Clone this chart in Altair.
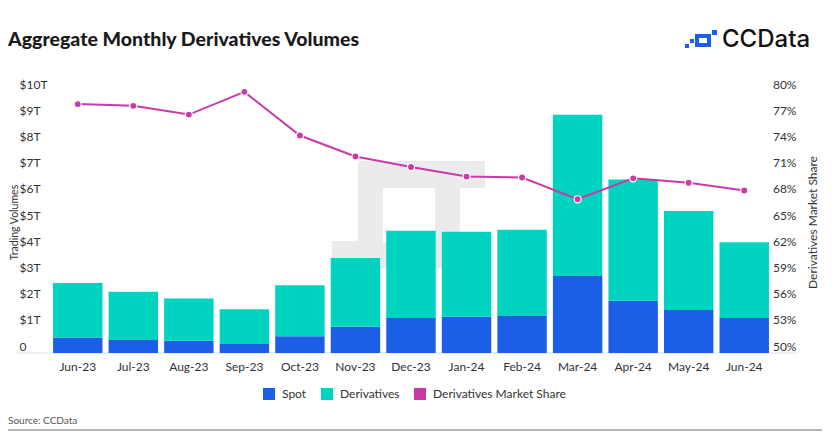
import altair as alt
import pandas as pd

months = ["Jun-23", "Jul-23", "Aug-23", "Sep-23", "Oct-23", "Nov-23", "Dec-23",
          "Jan-24", "Feb-24", "Mar-24", "Apr-24", "May-24", "Jun-24"]
spot = [0.59, 0.50, 0.47, 0.34, 0.64, 1.00, 1.34, 1.38, 1.41, 2.94, 1.99, 1.64, 1.34]
derivatives = [2.08, 1.84, 1.61, 1.33, 1.95, 2.63, 3.33, 3.25, 3.29, 6.15, 4.63, 3.78, 2.89]
market_share = [78.5, 78.3, 77.3, 79.9, 74.9, 72.5, 71.3, 70.2, 70.1, 67.6, 70.0, 69.5, 68.6]

series_names = ["Spot", "Derivatives", "Derivatives Market Share"]
series_colors = ["#1b5fe6", "#00d4c1", "#c83ba7"]

FONT = "Lato"
W, H = 722, 262

rows = []
for i, m in enumerate(months):
    rows.append({"month": m, "series": "Spot", "value": spot[i], "ord": 0})
    rows.append({"month": m, "series": "Derivatives", "value": derivatives[i], "ord": 1})
bars_df = pd.DataFrame(rows)
line_df = pd.DataFrame({"month": months, "share": market_share,
                        "series": ["Derivatives Market Share"] * len(months)})

x_enc = alt.X("month:N", sort=months, title=None,
              scale=alt.Scale(paddingInner=0.11, paddingOuter=0.055),
              axis=alt.Axis(labelAngle=0, domain=False, ticks=False, labelPadding=8,
                            labelFontSize=12, labelColor="#333333", labelFont=FONT))

color_scale = alt.Scale(domain=series_names, range=series_colors)

bars = alt.Chart(bars_df).mark_bar().encode(
    x=x_enc,
    y=alt.Y("sum(value):Q", stack="zero",
            scale=alt.Scale(domain=[0, 10], nice=False),
            axis=alt.Axis(values=list(range(0, 11)),
                          labelExpr="datum.value == 0 ? '0' : '$' + datum.value + 'T'",
                          domain=False, ticks=False, grid=False,
                          labelAlign="left", labelPadding=31, labelOffset=-7,
                          labelFontSize=12, labelColor="#333333", labelFont=FONT,
                          title="Trading Volumes", titleAngle=270, titleX=-36, titleY=131,
                          titleAlign="center", titleBaseline="middle",
                          titleFontSize=10.5, titleFontWeight="normal", titleColor="#333333",
                          titleFont=FONT)),
    color=alt.Color("series:N", scale=color_scale, title=None,
                    legend=alt.Legend(orient="none", legendX=213, legendY=297,
                                      direction="horizontal", symbolType="square",
                                      symbolSize=144, symbolStrokeWidth=0,
                                      labelFontSize=12, labelColor="#333333", labelFont=FONT,
                                      labelOffset=7, columnPadding=14)),
    order=alt.Order("ord:Q"),
)

share_y = alt.Y("share:Q", scale=alt.Scale(domain=[50, 80], nice=False),
                axis=alt.Axis(orient="right", values=list(range(50, 81, 3)),
                              labelExpr="datum.value + '%'",
                              domain=False, ticks=False, grid=False,
                              labelAlign="right", labelPadding=24, labelOffset=-7,
                              labelFontSize=12, labelColor="#333333", labelFont=FONT,
                              title="Derivatives Market Share", titleAngle=270,
                              titleX=40, titleY=131, titleAlign="center",
                              titleBaseline="middle", titleFontSize=12,
                              titleFontWeight="normal", titleColor="#333333",
                              titleFont=FONT))

line_base = alt.Chart(line_df).encode(
    x=alt.X("month:N", sort=months),
    y=share_y,
)
line = line_base.mark_line(strokeWidth=2).encode(
    color=alt.Color("series:N", scale=color_scale, legend=None),
)
points = line_base.mark_point(filled=True, size=50, stroke="white",
                              strokeWidth=1.2, opacity=1).encode(
    fill=alt.Fill("series:N", scale=color_scale, legend=None),
)

lines = alt.layer(line, points)

# decorations
def box(x, x2, y, y2, color, opacity=1.0):
    return alt.Chart(pd.DataFrame({"a": [0]})).mark_rect(color=color, opacity=opacity).encode(
        x=alt.value(x), x2=alt.value(x2), y=alt.value(y), y2=alt.value(y2))

# faint watermark (relative to plot origin at page 50, 91)
wm_color = "#ebebee"
watermark = [
    box(308, 435, 70, 97, wm_color),    # top bar
    box(308, 333, 70, 177, wm_color),   # left side
    box(385, 410, 70, 177, wm_color),   # right side
    box(308, 410, 152, 177, wm_color),  # bottom
    box(282, 308, 150, 177, wm_color),  # bottom-left pixel
]

base_rule = alt.Chart(pd.DataFrame({"a": [0]})).mark_rule(color="#dddddd", strokeWidth=1).encode(
    x=alt.value(-33), x2=alt.value(747), y=alt.value(262))
bottom_rule = alt.Chart(pd.DataFrame({"a": [0]})).mark_rule(color="#9a9a9a", strokeWidth=1.5).encode(
    x=alt.value(-42), x2=alt.value(772), y=alt.value(339))

title_txt = alt.Chart(pd.DataFrame({"t": ["Aggregate Monthly Derivatives Volumes"]})).mark_text(
    align="left", baseline="middle", font=FONT, fontSize=19.5, fontWeight=900, color="#1a1a1a"
).encode(x=alt.value(-42), y=alt.value(-51), text="t:N")

logo_txt = alt.Chart(pd.DataFrame({"t": ["CCData"]})).mark_text(
    align="left", baseline="middle", font="Inter", fontSize=24, fontWeight=500, color="#111111"
).encode(x=alt.value(672), y=alt.value(-51), text="t:N")

source_txt = alt.Chart(pd.DataFrame({"t": ["Source: CCData"]})).mark_text(
    align="left", baseline="middle", font=FONT, fontSize=10, color="#555555"
).encode(x=alt.value(-42), y=alt.value(330), text="t:N")

# logo icon (relative pixel boxes)
icon = pd.DataFrame({
    "x": [645, 645, 645, 657, 662, 635, 640],
    "x2": [661, 661, 649, 661, 667, 639, 644],
    "y": [-57, -48, -57, -57, -61, -47, -52],
    "y2": [-53, -44, -44, -44, -56, -43, -48],
})
icon_marks = [box(float(r.x), float(r.x2), float(r.y), float(r.y2), "#1b5fe6")
              for _, r in icon.iterrows()]

chart = alt.layer(*watermark, base_rule, bars, lines, title_txt, logo_txt, source_txt,
                  bottom_rule, *icon_marks).resolve_scale(
    y="independent", color="shared"
).properties(
    width=W, height=H,
    autosize=alt.AutoSizeParams(type="none"),
    padding={"left": 42, "top": 83, "right": 54, "bottom": 78},
).configure(background="white", view=alt.ViewConfig(stroke=None))

chart.save("out.html", embed_options={"renderer": "svg", "actions": False})
